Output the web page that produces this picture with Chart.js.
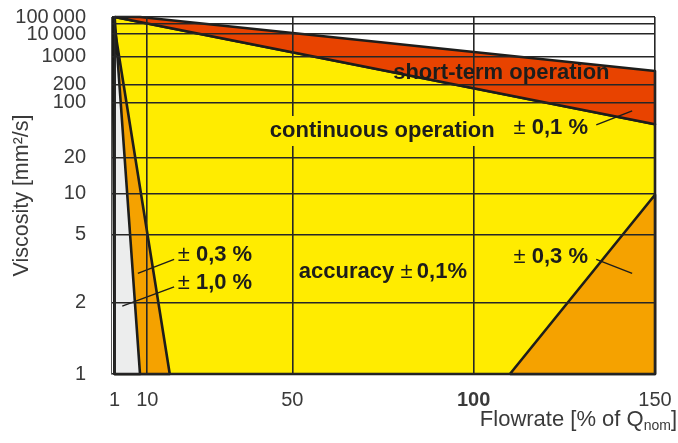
<!DOCTYPE html>
<html><head><meta charset="utf-8">
<script src="https://cdn.jsdelivr.net/npm/chart.js@4"></script>
<style>html,body{margin:0;padding:0;background:#fff}#wrap{width:678px;height:443px;position:relative}</style>
</head><body><div id="wrap"><canvas id="c"></canvas></div>
<script>
// ---- axis ----
const xTicks = [1, 10, 50, 100, 150];
const yTickValues = [1, 2, 5, 10, 20, 100, 200, 1000, 10000, 50000, 100000];
const yTickLabels = ['1', '2', '5', '10', '20', '100', '200', '1000', '10\u2009000', '', '100\u2009000'];
// printed (non-logarithmic) viscosity scale: relative spacing of the tick marks
const yTickSpacing = [0, 71.5, 139.5, 180.5, 216.7, 271.2, 289.3, 317.3, 340, 350.7, 357];

// ---- regions (flow %, viscosity mm²/s) ----
const shortTermFlow = [1, 8, 150, 150, 1];
const shortTermVisc = [100000, 100000, 440, 53, 100000];
const continuousFlow = [1, 150, 150, 1, 1];
const continuousVisc = [100000, 53, 1, 1, 100000];
const wedge03Flow = [0.5, 16.2, 1, 0.5];
const wedge03Visc = [100000, 1, 1, 100000];
const wedge10Flow = [1, 8, 1, 1];
const wedge10Visc = [100000, 1, 1, 100000];
const high03Flow = [110, 150, 150, 110];
const high03Visc = [1, 9.8, 1, 1];

// ---- leader lines ----
const leaderUpperFlow = [133.8, 143.7];
const leaderUpperVisc = [52, 78.7];
const leaderRightFlow = [133.8, 143.7];
const leaderRightVisc = [3.58, 2.96];
const leaderLeft03Flow = [17.4, 7.4];
const leaderLeft03Visc = [3.58, 2.96];
const leaderLeft10Flow = [17.4, 3.1];
const leaderLeft10Visc = [2.47, 1.93];

// ---- labels ----
const notes = [
  {flow: 77.8, visc: 390, parts: [['short-term operation', true]]},
  {flow: 43.8, visc: 43.5, parts: [['continuous operation', true]], bg: true},
  {flow: 111, visc: 47.6, parts: [['\u00b1 ', false], ['0,1 %', true]]},
  {flow: 51.8, visc: 3.03, parts: [['accuracy ', true], ['\u00b1\u2009', false], ['0,1%', true]]},
  {flow: 111, visc: 3.71, parts: [['\u00b1 ', false], ['0,3 %', true]]},
  {flow: 18.4, visc: 3.79, parts: [['\u00b1 ', false], ['0,3 %', true]]},
  {flow: 18.4, visc: 2.6, parts: [['\u00b1 ', false], ['1,0 %', true]]}
];

const YELLOW = '#FFEC00', RED = '#E84300', ORANGE = '#F5A200', GRAY = '#ECEDED', INK = '#1d1d1b';
const FONT = '"Liberation Sans", Arial, sans-serif';
const NOTE_SIZE = 22;

function vPos(v) {
  const lv = Math.log10(v);
  for (let i = 0; i < yTickValues.length - 1; i++) {
    const a = Math.log10(yTickValues[i]), b = Math.log10(yTickValues[i + 1]);
    if (lv <= b || i === yTickValues.length - 2) {
      return yTickSpacing[i] + (lv - a) / (b - a) * (yTickSpacing[i + 1] - yTickSpacing[i]);
    }
  }
}
function pts(f, v) { return f.map((fx, i) => ({x: fx, y: vPos(v[i])})); }
function poly(label, f, v, color, order) {
  return {label, data: pts(f, v), showLine: true, fill: 'shape', backgroundColor: color,
    borderColor: INK, borderWidth: 2.6, pointRadius: 0, order, borderJoinStyle: 'round', clip: 4};
}
function leader(label, f, v) {
  return {label, data: pts(f, v), showLine: true, fill: false, borderColor: INK, borderWidth: 1.4,
    pointRadius: 0, order: 0};
}
function noPad(s) { s.paddingTop = 0; s.paddingBottom = 0; s.paddingLeft = 0; s.paddingRight = 0; }

const notePlugin = {
  id: 'notes',
  afterDraw(chart) {
    const {ctx, scales: {x, y}} = chart;
    ctx.save();
    ctx.textBaseline = 'middle';
    ctx.textAlign = 'left';
    notes.forEach(n => {
      let px = x.getPixelForValue(n.flow);
      const py = y.getPixelForValue(vPos(n.visc));
      let w = 0;
      n.parts.forEach(([t, b]) => { ctx.font = (b ? 'bold ' : '') + NOTE_SIZE + 'px ' + FONT; w += ctx.measureText(t).width; });
      if (n.bg) { ctx.fillStyle = YELLOW; ctx.fillRect(px - 4, py - 15, w + 8, 30); }
      ctx.fillStyle = INK;
      n.parts.forEach(([t, b]) => {
        ctx.font = (b ? 'bold ' : '') + NOTE_SIZE + 'px ' + FONT;
        ctx.fillText(t, px, py);
        px += ctx.measureText(t).width;
      });
    });
    // x axis title with subscript
    const main = 'Flowrate [% of Q', sub = 'nom', end = ']';
    ctx.fillStyle = '#3a3a3a';
    ctx.textBaseline = 'alphabetic';
    ctx.font = '22px ' + FONT; const w1 = ctx.measureText(main).width, w3 = ctx.measureText(end).width;
    ctx.font = '14px ' + FONT; const w2 = ctx.measureText(sub).width;
    let sx = chart.width - 1 - (w1 + w2 + w3);
    const by = chart.scales.x.bottom - 17;
    ctx.font = '22px ' + FONT; ctx.fillText(main, sx, by); sx += w1;
    ctx.font = '14px ' + FONT; ctx.fillText(sub, sx, by + 4); sx += w2;
    ctx.font = '22px ' + FONT; ctx.fillText(end, sx, by);
    ctx.restore();
  }
};

new Chart(document.getElementById('c'), {
  type: 'scatter',
  data: {
    datasets: [
      leader('l1', leaderUpperFlow, leaderUpperVisc),
      leader('l2', leaderRightFlow, leaderRightVisc),
      leader('l3', leaderLeft03Flow, leaderLeft03Visc),
      leader('l4', leaderLeft10Flow, leaderLeft10Visc),
      poly('± 0,3 % high flow', high03Flow, high03Visc, ORANGE, 1),
      poly('± 1,0 %', wedge10Flow, wedge10Visc, GRAY, 2),
      poly('± 0,3 %', wedge03Flow, wedge03Visc, ORANGE, 3),
      poly('short-term operation', shortTermFlow, shortTermVisc, RED, 4),
      poly('continuous operation', continuousFlow, continuousVisc, YELLOW, 5)
    ]
  },
  options: {
    responsive: true, maintainAspectRatio: false, animation: false,
    layout: {padding: {top: 17, right: 23, left: 0, bottom: 0}},
    plugins: {legend: {display: false}, tooltip: {enabled: false}},
    scales: {
      x: {
        type: 'linear', min: 0, max: 150,
        afterBuildTicks: s => { s.ticks = xTicks.map(v => ({value: v})); },
        afterFit: s => { s.height = 69; noPad(s); },
        grid: {color: '#262626', lineWidth: 1.6, drawTicks: false, z: 1},
        border: {display: false, z: 2},
        ticks: {
          padding: 14, color: '#3a3a3a', maxRotation: 0, autoSkip: false,
          font: c => ({family: FONT, size: 20, weight: c.tick && c.tick.value === 100 ? 'bold' : 'normal'}),
          callback: v => String(v)
        }
      },
      y: {
        type: 'linear', min: 0, max: yTickSpacing[yTickSpacing.length - 1],
        afterBuildTicks: s => { s.ticks = yTickSpacing.map(v => ({value: v})); },
        afterFit: s => { s.width = 111; noPad(s); },
        grid: {color: '#262626', lineWidth: 1.6, drawTicks: false, z: 1},
        border: {display: true, color: '#555', width: 1, z: 2},
        ticks: {
          padding: 25, color: '#3a3a3a', autoSkip: false,
          font: {family: FONT, size: 20},
          callback: v => { const i = yTickSpacing.indexOf(v); return i >= 0 ? yTickLabels[i] : ''; }
        },
        title: {display: true, text: 'Viscosity [mm²/s]', color: '#3a3a3a', font: {family: FONT, size: 21.5}, padding: {top: 9, bottom: 0}}
      }
    }
  },
  plugins: [notePlugin]
});
</script>
</body></html>
